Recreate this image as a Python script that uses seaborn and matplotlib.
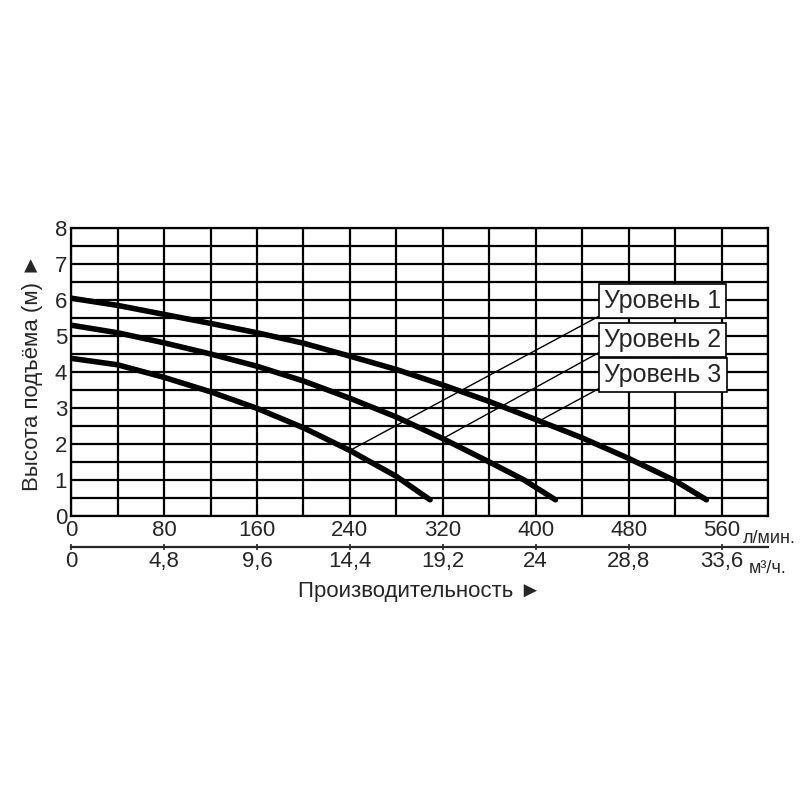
import matplotlib
matplotlib.use("Agg")
import matplotlib.pyplot as plt
import seaborn as sns
import pandas as pd

# Performance curves (flow in l/min, head in m)
flow_1 = [0, 40, 80, 120, 160, 200, 240, 280, 320, 360, 400, 440, 480, 520, 547]
head_1 = [6.05, 5.85, 5.6, 5.35, 5.09, 4.8, 4.44, 4.07, 3.64, 3.18, 2.68, 2.17, 1.6, 0.98, 0.45]
flow_2 = [0, 40, 80, 120, 160, 200, 240, 280, 320, 360, 390, 417]
head_2 = [5.3, 5.09, 4.81, 4.5, 4.16, 3.75, 3.27, 2.75, 2.15, 1.5, 1.0, 0.45]
flow_3 = [0, 40, 80, 120, 160, 200, 240, 280, 309]
head_3 = [4.38, 4.2, 3.85, 3.45, 2.99, 2.45, 1.82, 1.1, 0.45]

labels = ["Уровень 1", "Уровень 2", "Уровень 3"]
label_y = [5.98, 4.9, 3.93]
leader_from = [5.56, 4.55, 3.55]
leader_to = [(240, 1.82), (320, 2.15), (403, 2.64)]

lpm_ticks = [0, 80, 160, 240, 320, 400, 480, 560]
m3h_ticks = [0, 4.8, 9.6, 14.4, 19.2, 24, 28.8, 33.6]
m3h_labels = ["0", "4,8", "9,6", "14,4", "19,2", "24", "28,8", "33,6"]

sns.set_theme(style="white")
plt.rcParams["font.family"] = ["Liberation Sans", "DejaVu Sans"]

df = pd.concat([
    pd.DataFrame({"flow": flow_1, "head": head_1, "lvl": labels[0]}),
    pd.DataFrame({"flow": flow_2, "head": head_2, "lvl": labels[1]}),
    pd.DataFrame({"flow": flow_3, "head": head_3, "lvl": labels[2]}),
])

fig = plt.figure(figsize=(8, 8), dpi=100)
ax = fig.add_axes([0.089, 0.355, 0.871, 0.36])
sns.lineplot(data=df, x="flow", y="head", hue="lvl", palette=["black"] * 3,
             linewidth=4, legend=False, ax=ax, sort=False)

ax.set_xlim(0, 600)
ax.set_ylim(0, 8)
ax.set_xticks(lpm_ticks)
ax.set_yticks(range(0, 9))
ax.set_xticks([x for x in range(0, 601, 40) if x not in lpm_ticks], minor=True)
ax.set_yticks([i + 0.5 for i in range(8)], minor=True)
ax.grid(which="both", color="black", linewidth=1.6)
ax.tick_params(which="both", length=0, labelsize=16, pad=3)
ax.set_xticklabels([str(t) for t in lpm_ticks])
for s in ax.spines.values():
    s.set_color("black")
    s.set_linewidth(1.6)
ax.set_xlabel("")
ax.set_ylabel("Высота подъёма (м) ►", fontsize=16, labelpad=8)

# leaders and boxed labels
for lab, ly, lf, (tx, ty) in zip(labels, label_y, leader_from, leader_to):
    ax.plot([455, tx], [lf, ty], color="black", linewidth=1)
    ax.text(459, ly, lab, fontsize=18, va="center", ha="left",
            bbox=dict(boxstyle="square,pad=0.2", fc="white", ec="black", lw=1.2))

# secondary axis in m3/h
sec = ax.secondary_xaxis("bottom", functions=(lambda x: x * 0.06, lambda x: x / 0.06))
sec.spines["bottom"].set_position(("outward", 22))
sec.spines["bottom"].set_linewidth(1.6)
sec.set_xticks(m3h_ticks)
sec.set_xticklabels(m3h_labels)
sec.tick_params(length=5, width=1.2, labelsize=16, pad=1, direction="inout")
sec.set_xlabel("Производительность ►", fontsize=16, labelpad=6)

ax.text(578, -0.62, "л/мин.", fontsize=13, ha="left", va="center")
ax.text(583, -1.45, "м³/ч.", fontsize=13, ha="left", va="center")

fig.savefig("out.png", dpi=100)
